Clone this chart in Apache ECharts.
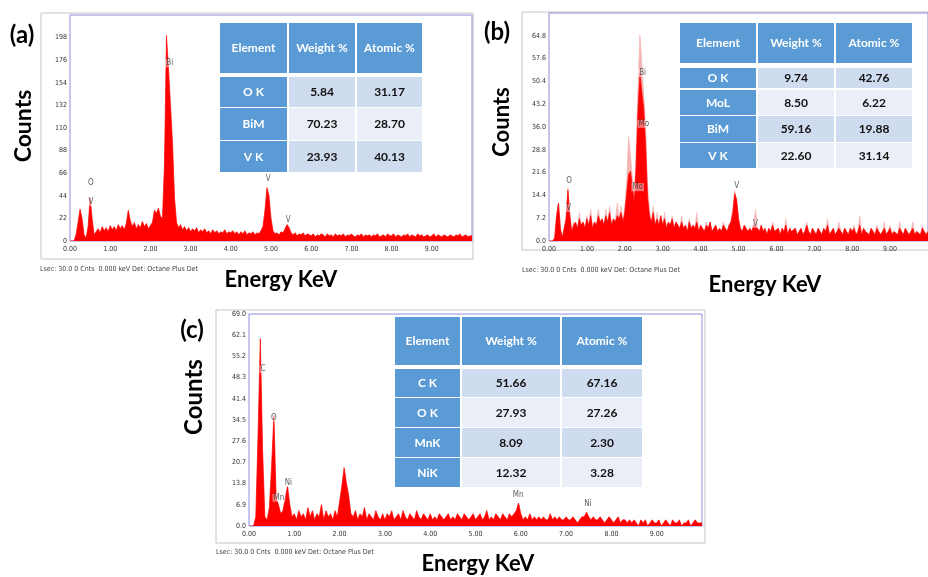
<!DOCTYPE html>
<html><head><meta charset="utf-8">
<script src="https://cdn.jsdelivr.net/npm/echarts@6/dist/echarts.min.js"></script>
<style>html,body{margin:0;padding:0;background:#fff}#c{width:928px;height:577px}</style>
</head><body><div id="c"></div>
<script>
// ---------------- DATA ----------------
const STEP = 0.05; // keV per channel
const countsA = [
0,0,0,6,18,31,22,6,3,14,
42,22,6,9,12,8,14,10,13,9,
15,11,14,10,16,12,15,11,17,30,
20,14,18,12,16,13,19,14,17,12,
15,18,30,27,32,24,22,75,200,168,
132,96,42,18,13,16,11,14,10,13,
9,12,10,13,8,11,9,12,8,10,
7,11,8,10,7,9,8,11,7,9,
8,10,7,9,6,9,7,10,6,8,
7,9,6,8,7,10,14,30,52,44,
22,10,7,8,6,9,8,12,16,13,
8,6,8,5,7,6,8,5,7,6,
5,7,4,6,5,7,6,4,7,5,
6,4,7,5,6,5,7,4,6,5,
7,5,4,6,5,7,4,6,5,6,
4,6,5,7,4,5,6,4,7,5,
5,7,4,6,5,4,6,5,7,4,
6,5,4,7,5,6,4,5,6,4,
5,7,4,6,5,4,6,5,4,6,
5,4,6,5,7,4,5,6,4,5,
5];
const countsBRed = [
0,0,0,1,8,12,4,1,4,7,
16,8,3,5,6,4,7,5,6,4,
7,5,8,4,6,5,8,6,7,5,
8,6,9,5,7,6,8,7,9,6,
9,15,21,22,17,12,24,42,53,47,
42,30,14,8,6,9,5,7,5,8,
5,7,4,6,5,7,4,6,5,4,
6,4,5,3,6,4,5,4,6,3,
5,4,3,5,4,6,3,4,5,3,
4,3,5,4,3,5,6,9,15,13,
7,4,3,5,4,3,4,3,5,5,
4,3,5,3,4,2,4,3,5,3,
3,4,2,4,3,5,2,4,3,3,
4,2,3,4,2,3,5,3,2,4,
3,2,4,3,2,4,3,5,2,3,
4,2,3,4,3,2,4,3,2,4,
3,4,2,3,5,2,4,3,3,2,
4,3,2,4,3,2,3,4,2,3,
4,2,3,3,2,4,3,2,4,3,
2,3,4,2,3,3,2,4,3,2,
3];
const countsBPink = [
0,0,0,1,8,12,4,1,4,7,
17,8,3,6,6,4,9,5,6,4,
8,5,10,4,6,5,10,6,7,5,
10,6,11,5,7,6,12,7,11,6,
11,19,33,27,20,14,30,50,65,56,
46,36,18,10,6,11,5,9,5,8,
5,9,4,6,5,8,4,6,5,4,
8,4,5,3,7,4,5,4,9,3,
5,4,3,6,4,6,3,4,5,3,
4,3,6,4,3,5,6,10,16,13,
7,4,3,5,4,3,4,3,5,10,
4,3,5,3,4,2,4,3,6,3,
3,4,2,4,3,7,2,4,3,3,
4,2,3,4,2,3,6,3,2,4,
3,2,4,3,2,4,3,7,2,3,
4,2,3,6,3,2,4,3,2,4,
3,5,2,3,8,2,4,3,3,2,
4,3,2,5,3,2,3,6,2,3,
5,2,3,3,2,6,3,2,4,3,
2,3,6,2,3,3,2,5,3,2,
3];
const countsC = [
0,0,0,3,30,61,25,3,2,6,
20,36,9,7,4,5,9,13,7,3,
4,2,5,3,4,2,6,3,5,2,
4,3,7,2,5,3,4,2,5,3,
8,13,19,14,10,4,3,5,2,4,
3,6,2,4,3,2,5,3,2,4,
2,4,3,5,2,3,4,2,5,3,
2,4,3,2,5,3,2,4,3,2,
4,2,3,2,4,3,2,3,4,2,
3,2,4,3,2,4,3,2,3,4,
2,3,4,2,3,5,2,3,2,4,
3,2,4,3,2,4,3,4,5,7.5,
4,2,3,2,4,2,3,2,3,2,
3,2,2,4,2,3,2,3,2,2,
3,2,2,3,2,1,2,3,3,4.5,
3,2,3,2,2,3,2,1,2,3,
2,1,2,3,1,2,2,1,2,1,
2,1,0,2,1,2,0,1,2,1,
1,2,0,1,2,1,0,2,1,1,
2,0,1,1,2,0,1,2,1,1,
1];

const tableHeaders = ['Element', 'Weight %', 'Atomic %'];
const elementsA = ['O K', 'BiM', 'V K'];
const weightA = ['5.84', '70.23', '23.93'];
const atomicA = ['31.17', '28.70', '40.13'];
const elementsB = ['O K', 'MoL', 'BiM', 'V K'];
const weightB = ['9.74', '8.50', '59.16', '22.60'];
const atomicB = ['42.76', '6.22', '19.88', '31.14'];
const elementsC = ['C K', 'O K', 'MnK', 'NiK'];
const weightC = ['51.66', '27.93', '8.09', '12.32'];
const atomicC = ['67.16', '27.26', '2.30', '3.28'];

const peakNamesA = ['O', 'V', 'Bi', 'V', 'V'];
const peakEnergyA = [0.52, 0.52, 2.48, 4.93, 5.43];
const peakHeightA = [57, 38, 173, 60, 21];
const peakNamesB = ['O', 'V', 'Bi', 'Mo', 'Mo', 'V', 'V'];
const peakEnergyB = [0.53, 0.52, 2.47, 2.5, 2.34, 4.95, 5.45];
const peakHeightB = [19, 10.4, 53, 37, 17, 17.4, 5.4];
const peakNamesC = ['C', 'O', 'Ni', 'Mn', 'Mn', 'Ni'];
const peakEnergyC = [0.31, 0.55, 0.87, 0.66, 5.94, 7.48];
const peakHeightC = [51, 35.3, 14, 9.2, 10, 7.2];

const footerText = 'Lsec: 30.0 0 Cnts  0.000 keV Det: Octane Plus Det';
const panelLabels = ['(a)', '(b)', '(c)'];
const yTitle = 'Counts';
const xTitle = 'Energy KeV';

// ---------------- BUILD ----------------
const NARROW = "'Liberation Sans Narrow','DejaVu Sans Condensed','Liberation Sans',sans-serif";
const BOLD = "Lato,'Open Sans',sans-serif";
const toXY = arr => arr.map((v, i) => [+(i * STEP).toFixed(2), v]);
const peaks = (n, e, h) => n.map((name, i) => ({ name, value: [e[i], h[i]] }));

const grids = [
  { left: 70, top: 15, width: 402, height: 226 },
  { left: 549, top: 13, width: 390, height: 228 },
  { left: 249, top: 314, width: 453, height: 212 }
].map(g => Object.assign(g, { show: true, borderColor: '#8c8cdc', borderWidth: 1, backgroundColor: 'transparent' }));

const yCfg = [
  { max: 220, interval: 22, dec: 0, showMax: false },
  { max: 72, interval: 7.2, dec: 1, showMax: false },
  { max: 69, interval: 6.9, dec: 1, showMax: true }
];

const xAxes = [0, 1, 2].map(i => ({
  gridIndex: i, type: 'value', min: 0, max: 10, interval: 1,
  axisLine: { show: false }, axisTick: { show: false }, splitLine: { show: false },
  axisLabel: { formatter: v => v.toFixed(2), fontSize: 7, color: '#333', margin: 5, showMaxLabel: false, fontFamily: NARROW }
}));
const yAxes = yCfg.map((c, i) => ({
  gridIndex: i, type: 'value', min: 0, max: c.max, interval: c.interval,
  axisLine: { show: false }, axisTick: { show: false }, splitLine: { show: false },
  axisLabel: { formatter: v => c.dec ? v.toFixed(1) : String(Math.round(v)), fontSize: 7, color: '#333', margin: 3, showMaxLabel: c.showMax, fontFamily: NARROW }
}));

const spec = (i, data, color, z) => ({
  type: 'line', xAxisIndex: i, yAxisIndex: i, data: toXY(data), showSymbol: false, symbol: 'none',
  sampling: null, silent: true, z: z,
  lineStyle: { color: color, width: 0.7 }, areaStyle: { color: color, opacity: 1 }
});
const labelSeries = (i, data) => ({
  type: 'scatter', xAxisIndex: i, yAxisIndex: i, data: data, symbolSize: 2,
  itemStyle: { color: 'rgba(0,0,0,0)' }, silent: true, z: 10,
  label: { show: true, formatter: '{b}', position: 'inside', fontSize: 8, color: '#333', fontFamily: NARROW,
    backgroundColor: 'rgba(255,255,255,0.55)', padding: [0, 1] }
});

const series = [
  spec(0, countsA, '#ff0000', 2),
  spec(1, countsBPink, '#f5b5b5', 2),
  spec(1, countsBRed, '#ff0000', 3),
  spec(2, countsC, '#ff0000', 2),
  labelSeries(0, peaks(peakNamesA, peakEnergyA, peakHeightA)),
  labelSeries(1, peaks(peakNamesB, peakEnergyB, peakHeightB)),
  labelSeries(2, peaks(peakNamesC, peakEnergyC, peakHeightC))
];

// graphic: frames, titles, tables
const graphic = [];
const frames = [[41, 13, 432, 246], [522, 12, 420, 238], [216, 310, 489, 233]];
frames.forEach(f => graphic.push({ type: 'rect', z: -10, shape: { x: f[0], y: f[1], width: f[2], height: f[3] },
  style: { fill: 'none', stroke: '#c4c4c4', lineWidth: 1 } }));

function txt(x, y, text, font, fill, align) {
  return { type: 'text', z: 100, x: x, y: y,
    style: { text: text, x: 0, y: 0, font: font, fill: fill || '#000', textAlign: align || 'center', textVerticalAlign: 'middle', align: align || 'center', verticalAlign: 'middle' } };
}
[[22, 35], [497, 32], [192, 330]].forEach((p, i) => graphic.push(txt(p[0], p[1], panelLabels[i], 'bold 24px ' + BOLD)));
[[24, 126, 23], [502, 122, 22], [194, 397, 24]].forEach(p => {
  const t = txt(p[0], p[1], yTitle, 'bold ' + p[2] + 'px ' + BOLD); t.rotation = Math.PI / 2; graphic.push(t);
});
[[281, 280], [765, 285], [478, 564]].forEach(p => graphic.push(txt(p[0], p[1], xTitle, 'bold 22px ' + BOLD)));
[[40, 269], [522, 270], [216, 552]].forEach(p => graphic.push(txt(p[0], p[1], footerText, '7px ' + NARROW, '#444', 'left')));

const BLUE = '#5b9bd5', DARK = '#cfdbee', LIGHT = '#e9eef7';
function table(xs, headY, rowYs, el, w, a) {
  for (let c = 0; c < 3; c++) {
    const x0 = xs[c] + (c ? 1 : 0), x1 = xs[c + 1] - 1;
    graphic.push({ type: 'rect', z: 90, shape: { x: x0, y: headY[0], width: x1 - x0, height: headY[1] - headY[0] }, style: { fill: BLUE } });
    graphic.push(txt((x0 + x1) / 2, (headY[0] + headY[1]) / 2, tableHeaders[c], 'bold 12px ' + BOLD, '#fff'));
  }
  rowYs.forEach((ry, r) => {
    const vals = [el[r], w[r], a[r]];
    for (let c = 0; c < 3; c++) {
      const x0 = xs[c] + (c ? 1 : 0), x1 = xs[c + 1] - 1;
      const fill = c === 0 ? BLUE : (r % 2 === 0 ? DARK : LIGHT);
      graphic.push({ type: 'rect', z: 90, shape: { x: x0, y: ry[0], width: x1 - x0, height: ry[1] - ry[0] }, style: { fill: fill } });
      graphic.push(txt((x0 + x1) / 2, (ry[0] + ry[1]) / 2 + 0.5, vals[c], 'bold 12px ' + BOLD, c === 0 ? '#fff' : '#111'));
    }
  });
}
table([220, 288, 356, 423], [23, 73], [[77, 107], [108, 140], [141, 172]], elementsA, weightA, atomicA);
table([680, 757, 835, 913], [23, 63], [[68, 88], [90, 115], [116, 142], [143, 168]], elementsB, weightB, atomicB);
table([395, 461, 561, 643], [317, 365], [[369, 397], [398, 427], [428, 457], [458, 487]], elementsC, weightC, atomicC);

const chart = echarts.init(document.getElementById('c'), null, { renderer: 'canvas', width: 928, height: 577 });
chart.setOption({
  animation: false,
  backgroundColor: '#fff',
  grid: grids, xAxis: xAxes, yAxis: yAxes, series: series, graphic: graphic
});
</script></body></html>
